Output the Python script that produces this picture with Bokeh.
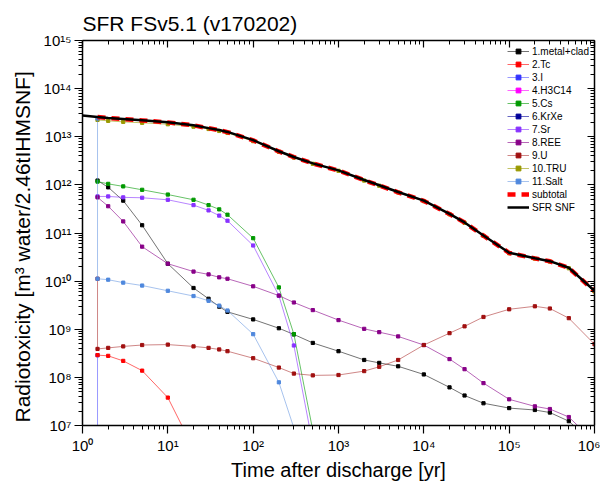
from bokeh.plotting import figure
from bokeh.models import (LogAxis, FixedTicker, CustomJSTickFormatter, Legend,
                          LegendItem, Range1d, Title)
from bokeh.embed import file_html
from bokeh.resources import INLINE

# ---------------- data ----------------
years = [1.5, 2, 3, 5, 10, 20, 30, 40, 50, 100, 200, 300, 500, 1000, 2000,
         3000, 5000, 1e4, 2e4, 3e4, 5e4, 1e5, 2e5, 3e5, 5e5, 1e6]

snf_years = [1] + years
sfr_snf = [2.75e13, 2.57e13, 2.45e13, 2.34e13, 2.19e13, 2.0e13, 1.74e13, 1.51e13,
           1.38e13, 1.26e13, 8.5e12, 5.0e12, 3.8e12, 2.8e12, 2.0e12, 1.26e12,
           9.8e11, 7.1e11, 4.7e11, 2.5e11, 1.66e11, 8.9e10, 3.9e10, 3.0e10,
           2.6e10, 1.9e10, 6.3e9]
subtotal = [2.56e13, 2.44e13, 2.33e13, 2.18e13, 1.99e13, 1.73e13, 1.50e13,
            1.37e13, 1.25e13, 8.4e12, 4.95e12, 3.78e12, 2.78e12, 1.99e12,
            1.25e12, 9.7e11, 7.0e11, 4.65e11, 2.48e11, 1.65e11, 8.8e10, 3.85e10,
            2.97e10, 2.58e10, 1.88e10, 6.2e9]
tru = [2.24e13, 2.14e13, 2.04e13, 1.95e13, 1.82e13, 1.62e13, 1.45e13, 1.32e13,
       1.2e13, 8.1e12, 4.85e12, 3.7e12, 2.74e12, 1.96e12, 1.23e12, 9.6e11,
       6.95e11, 4.6e11, 2.45e11, 1.63e11, 8.7e10, 3.8e10, 2.93e10, 2.55e10,
       1.85e10, 6.1e9]
metal_clad = [1.23e12, 8.9e11, 4.7e11, 1.45e11, 2.3e10, 7.2e9, 4.3e9, 2.95e9,
              2.3e9, 1.6e9, 1.05e9, 7.8e8, 5.2e8, 3.5e8, 2.3e8, 2.0e8, 1.7e8,
              1.15e8, 6.2e7, 4.2e7, 2.9e7, 2.3e7, 2.1e7, 1.86e7, 1.23e7, 4.0e6]
ree = [5.5e11, 3.6e11, 1.74e11, 5.2e10, 2.3e10, 1.58e10, 1.38e10, 1.2e10,
       1.12e10, 7.8e9, 5.0e9, 3.6e9, 2.5e9, 1.55e9, 1.02e9, 8.7e8, 7.1e8, 4.7e8,
       2.4e8, 1.48e8, 7.6e7, 3.5e7, 2.5e7, 2.2e7, 1.5e7, 4.6e6]
u_years = [1.5] + years
uranium = [1.12e10, 3.9e8, 4.1e8, 4.4e8, 4.7e8, 4.8e8, 4.4e8, 4.1e8, 3.8e8,
           3.5e8, 2.5e8, 1.6e8, 1.2e8, 1.1e8, 1.12e8, 1.35e8, 1.66e8, 2.3e8,
           4.7e8, 8.3e8, 1.15e9, 1.8e9, 2.6e9, 3.0e9, 2.7e9, 1.7e9, 4.9e8]
cs_years = years[:13]
cs = [1.17e12, 1.05e12, 9.3e11, 7.9e11, 6.3e11, 4.9e11, 3.8e11, 3.1e11, 2.4e11,
      7.8e10, 7.4e9, 7.9e8, 7.9e6]
sr = [5.75e11, 5.75e11, 5.5e11, 5.4e11, 4.9e11, 3.8e11, 2.95e11, 2.3e11,
      1.8e11, 5.5e10, 5.0e9, 4.6e8, 4.0e6]
salt_years = [1.5] + years[:12]
salt = [2.4e13, 1.12e10, 1.07e10, 9.3e9, 8.1e9, 6.3e9, 4.9e9, 3.9e9, 3.1e9,
        2.45e9, 7.9e8, 7.9e7, 8.9e6]
tc_years = years[:6]
tc = [2.9e8, 2.8e8, 2.2e8, 1.38e8, 3.8e7, 3.3e6]
i_years = [1.5, 1.5]
iodine = [2.9e8, 1.0e5]
h3c14_years = [1.5, 10, 100]
h3c14 = [3.0e6, 2.5e6, 1.0e6]
krxe_years = [1.5, 10, 50]
krxe = [2.0e6, 1.0e6, 3.0e5]

x_decades = [1e0, 1e1, 1e2, 1e3, 1e4, 1e5, 1e6]
y_decades = [1e7, 1e8, 1e9, 1e10, 1e11, 1e12, 1e13, 1e14, 1e15]

FONT = "Liberation Sans"

# ---------------- figure ----------------
p = figure(width=600, height=492, x_axis_type="log", y_axis_type="log",
           x_range=Range1d(1, 1e6), y_range=Range1d(1e7, 1e15),
           output_backend="svg", toolbar_location=None,
           min_border_left=82, min_border_right=6, min_border_top=40,
           min_border_bottom=67, title="SFR FSv5.1 (v170202)")
p.outline_line_color = None
p.xgrid.visible = False
p.ygrid.visible = False
p.title.text_font = FONT
p.title.text_font_size = "21px"
p.title.text_font_style = "normal"
p.title.text_color = "black"
p.title.align = "left"
p.title.offset = 0
p.title.standoff = 12

fmt = CustomJSTickFormatter(code="""
const s = {'0':'\\u2070','1':'\\u00b9','2':'\\u00b2','3':'\\u00b3','4':'\\u2074',
           '5':'\\u2075','6':'\\u2076','7':'\\u2077','8':'\\u2078','9':'\\u2079','-':'\\u207b'};
const e = Math.round(Math.log10(tick));
return '10' + String(e).split('').map(c => s[c]).join('');
""")


def minors(decades):
    out = []
    for d in decades[:-1]:
        for m in range(2, 10):
            out.append(m * d)
    return out


def style(ax, decades, labels, inward):
    ax.ticker = FixedTicker(ticks=decades, minor_ticks=minors(decades))
    ax.axis_line_width = 1.5
    ax.axis_line_color = "black"
    ax.major_tick_line_color = "black"
    ax.minor_tick_line_color = "black"
    ax.major_tick_line_width = 1.2
    if inward:
        ax.major_tick_in, ax.major_tick_out = 7, 0
        ax.minor_tick_in, ax.minor_tick_out = 4, 0
    else:
        ax.major_tick_in, ax.major_tick_out = 0, 8
        ax.minor_tick_in, ax.minor_tick_out = 0, 4
    if labels:
        ax.formatter = fmt
        ax.major_label_text_font = FONT
        ax.major_label_text_font_size = "15px"
        ax.major_label_text_color = "black"
        ax.major_label_standoff = 3
        ax.axis_label_text_font = FONT
        ax.axis_label_text_font_size = "20px"
        ax.axis_label_text_font_style = "normal"
        ax.axis_label_text_color = "black"
    else:
        ax.formatter = CustomJSTickFormatter(code="return '';")
        ax.major_label_text_font_size = "1px"
        ax.major_label_standoff = 0


style(p.xaxis[0], x_decades, True, False)
style(p.yaxis[0], y_decades, True, False)
p.xaxis[0].axis_label = "Time after discharge [yr]"
p.xaxis[0].axis_label_standoff = 2

top = LogAxis()
style(top, x_decades, False, True)
p.add_layout(top, "above")
right = LogAxis()
style(right, y_decades, False, True)
p.add_layout(right, "right")

# y axis title as a vertical Title in the left panel, starting near the bottom
ytitle = Title(text="Radiotoxicity [m\u00b3 water/2.46tIHMSNF]", align="left",
               offset=3, standoff=14, text_font=FONT, text_font_size="21px",
               text_font_style="normal", text_color="black")
p.add_layout(ytitle, "left")

# ---------------- series ----------------
items = {}


def series(key, xs, ys, color, alpha=0.6):
    ln = p.line(xs, ys, line_color=color, line_width=1, line_alpha=alpha)
    sc = p.scatter(xs, ys, marker="square", size=3.2, fill_color=color,
                   line_color=color)
    items[key] = [ln, sc]


series("1.metal+clad", years, metal_clad, "#000000", 0.55)
series("3.I", i_years, iodine, "#3333FF", 0.5)
series("2.Tc", tc_years, tc, "#FF0000")
series("4.H3C14", h3c14_years, h3c14, "#FF00FF")
series("5.Cs", cs_years, cs, "#009900")
series("6.KrXe", krxe_years, krxe, "#000099")
series("7.Sr", cs_years, sr, "#8833FF")
series("8.REE", years, ree, "#880088")
series("9.U", u_years, uranium, "#A01010", 0.5)
series("10.TRU", years, tru, "#999900")
series("11.Salt", salt_years, salt, "#4F88DD", 0.5)

sub = p.line(years, subtotal, line_color="#FF0000", line_width=4.5,
             line_dash="8 6")
tot = p.line(snf_years, sfr_snf, line_color="#000000", line_width=2.5)
items["subtotal"] = [sub]
items["SFR SNF"] = [tot]

order = ["1.metal+clad", "2.Tc", "3.I", "4.H3C14", "5.Cs", "6.KrXe", "7.Sr",
         "8.REE", "9.U", "10.TRU", "11.Salt", "subtotal", "SFR SNF"]
legend = Legend(items=[LegendItem(label=k, renderers=items[k]) for k in order],
                location="top_right")
legend.label_text_font = FONT
legend.label_text_font_size = "10px"
legend.label_text_color = "black"
legend.glyph_width = 22
legend.glyph_height = 12
legend.label_height = 12
legend.spacing = 1
legend.label_standoff = 3
legend.padding = 4
legend.margin = 5
legend.border_line_color = None
legend.background_fill_alpha = 0
p.add_layout(legend, "center")

open("out.html", "w", encoding="utf-8").write(file_html(p, INLINE))
